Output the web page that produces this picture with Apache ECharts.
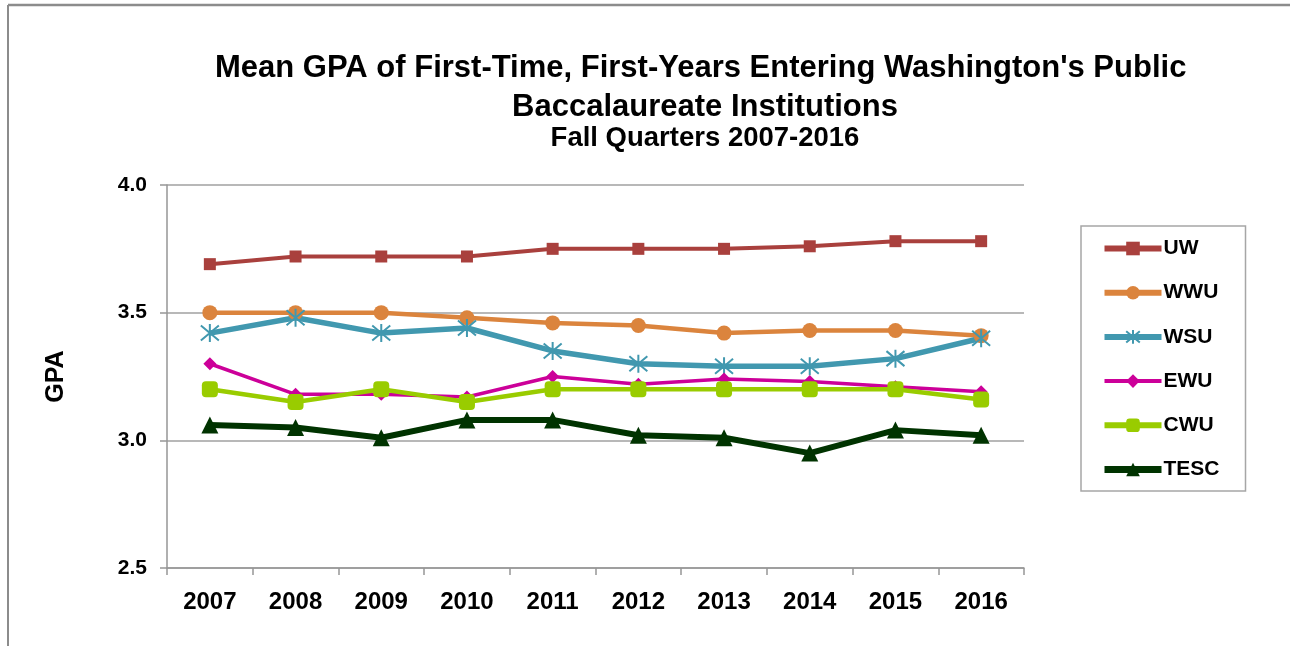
<!DOCTYPE html>
<html>
<head>
<meta charset="utf-8">
<script src="https://cdn.jsdelivr.net/npm/echarts@6/dist/echarts.min.js"></script>
<style>
html,body{margin:0;padding:0;background:#fff;}
#chart{width:1290px;height:646px;}
</style>
</head>
<body>
<div id="chart"></div>
<script>
const years = ['2007','2008','2009','2010','2011','2012','2013','2014','2015','2016'];
const UW   = [3.69, 3.72, 3.72, 3.72, 3.75, 3.75, 3.75, 3.76, 3.78, 3.78];
const WWU  = [3.50, 3.50, 3.50, 3.48, 3.46, 3.45, 3.42, 3.43, 3.43, 3.41];
const WSU  = [3.42, 3.48, 3.42, 3.44, 3.35, 3.30, 3.29, 3.29, 3.32, 3.40];
const EWU  = [3.30, 3.18, 3.18, 3.17, 3.25, 3.22, 3.24, 3.23, 3.21, 3.19];
const CWU  = [3.20, 3.15, 3.20, 3.15, 3.20, 3.20, 3.20, 3.20, 3.20, 3.16];
const TESC = [3.06, 3.05, 3.01, 3.08, 3.08, 3.02, 3.01, 2.95, 3.04, 3.02];
const yTicks = [2.5, 3.0, 3.5, 4.0];

const FONT = '"Liberation Sans", Arial, sans-serif';
const asterisk = 'path://M0,0 L20,20 M20,0 L0,20 M10,-2 L10,22';

const COLORS = { UW:'#A9403D', WWU:'#DB843D', WSU:'#4198AF', EWU:'#CC0099', CWU:'#99CC00', TESC:'#003300' };

function series(name, data, width, symbol, size, extra) {
  const color = COLORS[name];
  return Object.assign({
    name: name, type: 'line', data: data,
    symbol: symbol, symbolSize: size, showSymbol: true,
    lineStyle: { color: color, width: width },
    itemStyle: { color: color },
    emphasis: { disabled: true },
    animation: false, z: 3
  }, extra || {});
}

function legendItem(name, w) {
  return { name: name, lineStyle: { width: w, color: COLORS[name] } };
}

const chart = echarts.init(document.getElementById('chart'), null, { renderer: 'canvas' });
chart.setOption({
  backgroundColor: '#fff',
  title: {
    text: "Mean GPA of First-Time, First-Years Entering Washington's Public \nBaccalaureate Institutions",
    subtext: 'Fall Quarters 2007-2016',
    left: 700, textAlign: 'center', top: 44, itemGap: 0,
    textStyle: { fontFamily: FONT, fontWeight: 'bold', fontSize: 31, lineHeight: 39, color: '#000' },
    subtextStyle: { fontFamily: FONT, fontWeight: 'bold', fontSize: 27.5, lineHeight: 22, color: '#000' }
  },
  legend: {
    orient: 'vertical', left: 1081, top: 226,
    padding: [12, 26, 11, 20],
    itemWidth: 57, itemHeight: 17, itemGap: 23.2,
    borderColor: '#a6a6a6', borderWidth: 1.5,
    textStyle: { fontFamily: FONT, fontWeight: 'bold', fontSize: 21, color: '#000', padding: [0,0,0,-3] },
    data: [legendItem('UW',6), legendItem('WWU',6), legendItem('WSU',6), legendItem('EWU',4), legendItem('CWU',6), legendItem('TESC',7)]
  },
  grid: { left: 167, right: 266, top: 185, bottom: 78 },
  xAxis: {
    type: 'category', data: years, boundaryGap: true,
    axisLine: { lineStyle: { color: '#969696', width: 1.5 } },
    axisTick: { show: true, length: 7, lineStyle: { color: '#969696', width: 1.5 } },
    axisLabel: { fontFamily: FONT, fontWeight: 'bold', fontSize: 24, color: '#000', margin: 22 },
    splitLine: { show: false }
  },
  yAxis: {
    type: 'value', min: yTicks[0], max: yTicks[yTicks.length-1], interval: 0.5,
    name: 'GPA', nameLocation: 'middle', nameRotate: 90, nameGap: 98,
    nameTextStyle: { fontFamily: FONT, fontWeight: 'bold', fontSize: 25, color: '#000' },
    axisLine: { show: true, lineStyle: { color: '#969696', width: 1.5 } },
    axisTick: { show: true, length: 7, lineStyle: { color: '#969696', width: 1.5 } },
    axisLabel: { fontFamily: FONT, fontWeight: 'bold', fontSize: 21, color: '#000', margin: 20,
      formatter: v => v.toFixed(1) },
    splitLine: { lineStyle: { color: '#a0a0a0', width: 1.5 } }
  },
  graphic: [
    { type: 'line', shape: { x1: 8, y1: 5, x2: 1290, y2: 5 }, style: { stroke: '#8c8c8c', lineWidth: 2.5 }, silent: true },
    { type: 'line', shape: { x1: 8, y1: 5, x2: 8, y2: 646 }, style: { stroke: '#8c8c8c', lineWidth: 2 }, silent: true }
  ],
  series: [
    series('UW', UW, 4, 'rect', 12),
    series('WWU', WWU, 4.5, 'circle', 15),
    series('WSU', WSU, 5.5, asterisk, 18,
      { itemStyle: { color: 'none', borderColor: COLORS.WSU, borderWidth: 2 } }),
    series('EWU', EWU, 3.5, 'diamond', 13),
    series('CWU', CWU, 4.5, 'roundRect', 16),
    series('TESC', TESC, 6, 'triangle', 17)
  ]
});
</script>
</body>
</html>
